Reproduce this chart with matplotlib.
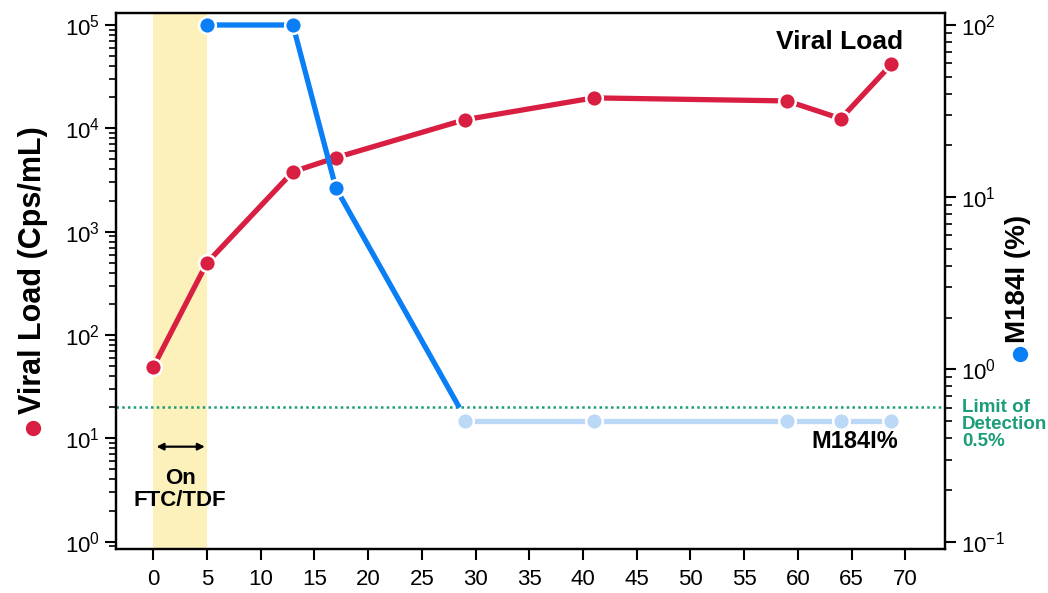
import math
import matplotlib
matplotlib.use("Agg")
import matplotlib.pyplot as plt
from matplotlib.ticker import FixedLocator, LogLocator, NullFormatter, FuncFormatter
from matplotlib import font_manager

names = {f.name for f in font_manager.fontManager.ttflist}
TICKFONT = 'Liberation Sans Narrow' if 'Liberation Sans Narrow' in names else 'Liberation Sans'

plt.rcParams['font.family'] = ['Liberation Sans', 'DejaVu Sans']
plt.rcParams['mathtext.fontset'] = 'custom'
plt.rcParams['mathtext.rm'] = TICKFONT
plt.rcParams['mathtext.it'] = TICKFONT + ':italic'
plt.rcParams['mathtext.bf'] = TICKFONT + ':bold'

# ---- data ----
vl_days = [0, 5, 13, 17, 29, 41, 59, 64, 68.7]
vl_values = [49, 500, 3800, 5200, 12100, 19700, 18400, 12400, 41500]

m184_days = [5, 13, 17, 28.5]
m184_values = [100, 100, 11.3, 0.6]

m184_und_days = [29, 41, 59, 64, 68.7]
m184_und_values = [0.5, 0.5, 0.5, 0.5, 0.5]

lod_left = 20          # limit of detection line (left-axis units)
treat_start, treat_end = 0, 5
x_ticks = list(range(0, 75, 5))

RED = '#d81f41'
BLUE = '#0a7ef5'
LBLUE = '#bcd8f7'
YELLOW = '#fdf1bb'
GREEN = '#1a9d78'

fig = plt.figure(figsize=(10.48, 5.93), dpi=100)
ax = fig.add_axes([0.1107, 0.0737, 0.791, 0.9039])
ax2 = ax.twinx()

ax.set_xlim(-3.47, 73.7)
ax.set_yscale('log')
ax.set_ylim(10 ** -0.074, 10 ** 5.113)
ax2.set_yscale('log')
ax2.set_ylim(10 ** -1.044, 10 ** 2.068)

ax.axvspan(treat_start, treat_end, color=YELLOW, lw=0, zorder=0)
ax.axhline(lod_left, color=GREEN, ls=(0, (1, 1.3)), lw=1.8, zorder=1)

ax.plot(vl_days, vl_values, color=RED, lw=3.8, marker='o', ms=12,
        mfc=RED, mec='white', mew=1.8, zorder=3, solid_capstyle='butt')

ax2.plot(m184_und_days, m184_und_values, color=LBLUE, lw=3.8, marker='o', ms=12,
         mfc=LBLUE, mec='white', mew=1.8, zorder=3, solid_capstyle='butt')
ax2.plot(m184_days, m184_values, color=BLUE, lw=3.8, marker='o', ms=12,
         markevery=[0, 1, 2], mfc=BLUE, mec='white', mew=1.8, zorder=4,
         solid_capstyle='butt')

# ticks
ax.set_xticks(x_ticks)
ax.tick_params(axis='x', labelsize=16, length=8, width=1.5, direction='out', pad=6)
for lab in ax.get_xticklabels():
    lab.set_fontfamily(TICKFONT)

fmt = FuncFormatter(lambda v, p: r'$\mathregular{10^{%d}}$' % round(math.log10(v)))
ax.yaxis.set_major_locator(FixedLocator([10 ** k for k in range(0, 6)]))
ax.yaxis.set_minor_locator(LogLocator(base=10, subs=range(2, 10), numticks=20))
ax.yaxis.set_major_formatter(fmt)
ax.yaxis.set_minor_formatter(NullFormatter())
ax.tick_params(axis='y', which='major', labelsize=16, length=8, width=1.5)
ax.tick_params(axis='y', which='minor', length=5, width=1.2)

ax2.yaxis.set_major_locator(FixedLocator([10 ** k for k in range(-1, 3)]))
ax2.yaxis.set_minor_locator(LogLocator(base=10, subs=range(2, 10), numticks=20))
ax2.yaxis.set_major_formatter(fmt)
ax2.yaxis.set_minor_formatter(NullFormatter())
ax2.tick_params(axis='y', which='major', labelsize=16, length=8, width=1.5)
ax2.tick_params(axis='y', which='minor', length=5, width=1.2)

for a in (ax, ax2):
    for s in a.spines.values():
        s.set_linewidth(1.6)

# axis labels with colored dots
ax.text(-0.100, 0.252, 'Viral Load (Cps/mL)', transform=ax.transAxes, rotation=90,
        ha='center', va='bottom', fontsize=22, fontweight='bold')
ax.plot([-0.100], [0.226], 'o', color=RED, ms=10, transform=ax.transAxes, clip_on=False)
ax.text(1.088, 0.385, 'M184I (%)', transform=ax.transAxes, rotation=90,
        ha='center', va='bottom', fontsize=20, fontweight='bold')
ax.plot([1.090], [0.364], 'o', color=BLUE, ms=10, transform=ax.transAxes, clip_on=False)

# annotations
ax.text(63.9, 68000, 'Viral Load', ha='center', va='center', fontsize=19, fontweight='bold')
ax2.text(65.3, 0.38, 'M184I%', ha='center', va='center', fontsize=17, fontweight='bold')
ax.annotate('', xy=(0.3, 8.3), xytext=(4.8, 8.3),
            arrowprops=dict(arrowstyle='<|-|>', color='black', lw=1.6,
                            mutation_scale=10, shrinkA=0, shrinkB=0))
ax.text(2.5, 3.2, 'On\nFTC/TDF', ha='center', va='center', fontsize=16,
        fontweight='bold', linespacing=1.05)
ax.text(1.0205, 0.281, 'Limit of\nDetection\n0.5%', transform=ax.transAxes,
        ha='left', va='top', fontsize=13.5, color=GREEN, fontweight='bold',
        linespacing=1.0)

fig.savefig('out.png', dpi=100)
